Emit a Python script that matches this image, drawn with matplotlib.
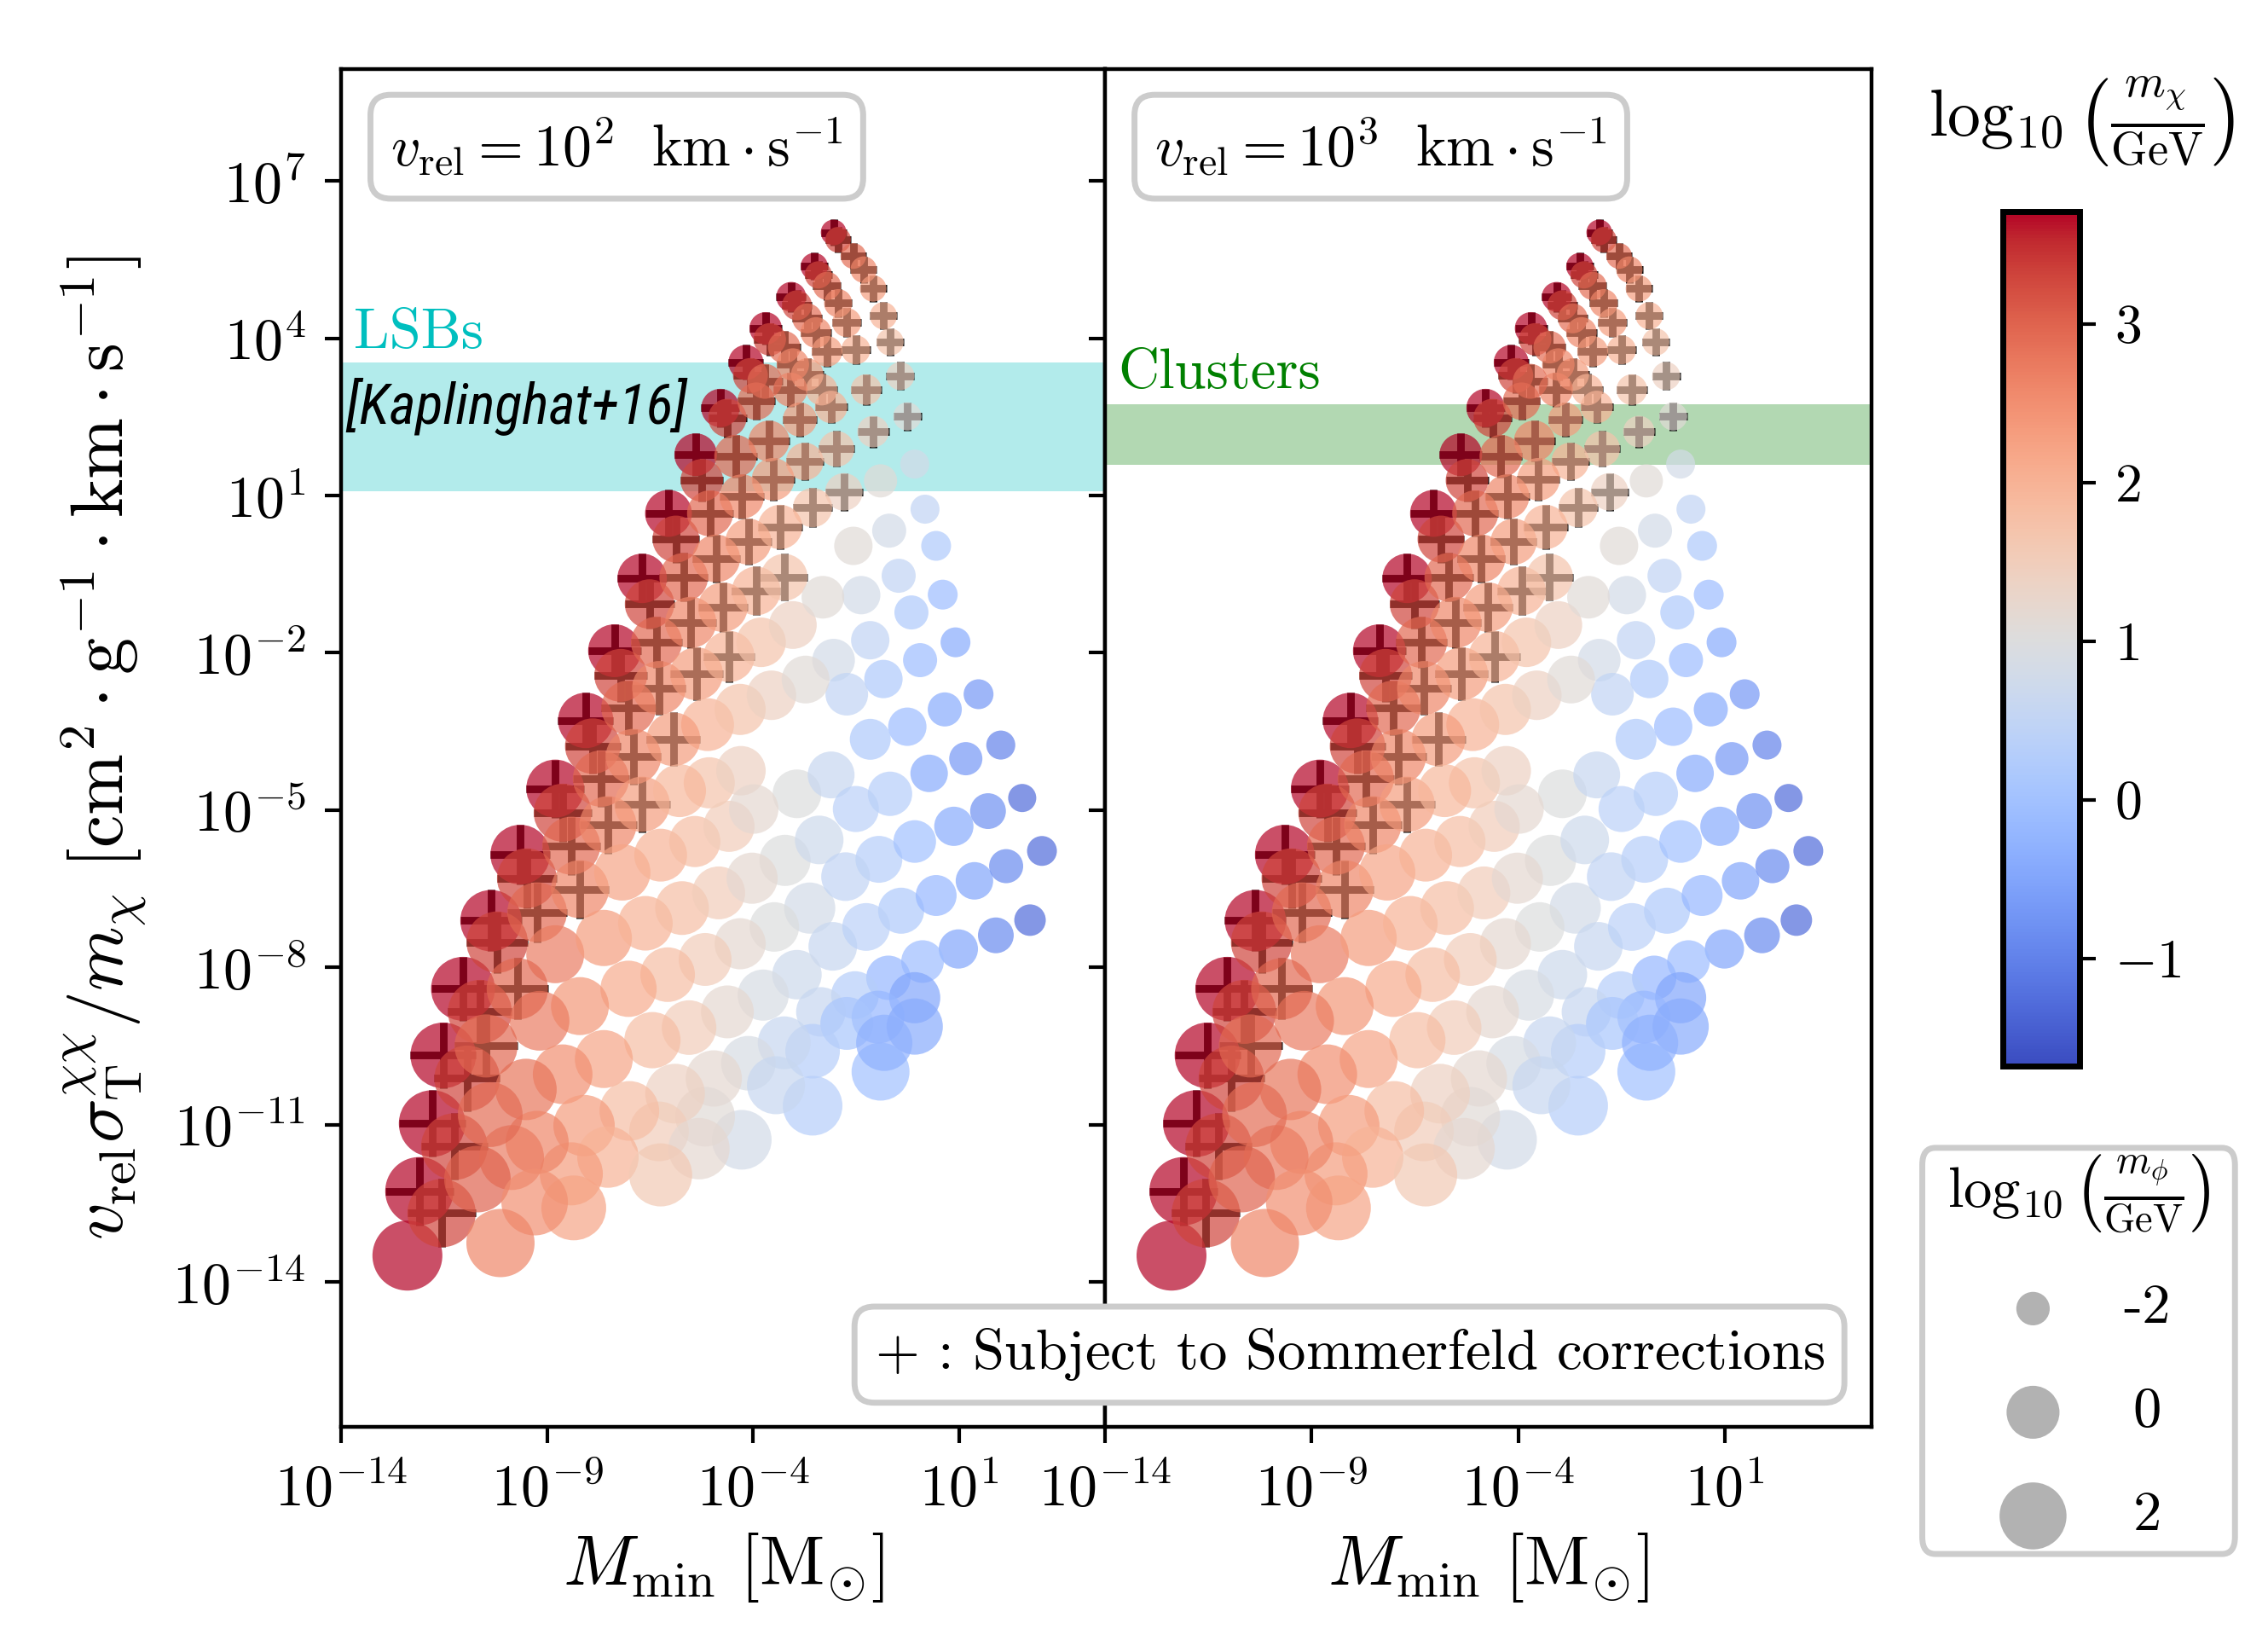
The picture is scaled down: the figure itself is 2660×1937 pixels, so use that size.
import numpy as np
import matplotlib.pyplot as plt
from matplotlib.colors import Normalize
from matplotlib.cm import ScalarMappable
from matplotlib.patches import FancyBboxPatch
from matplotlib.ticker import FuncFormatter

plt.rcParams['mathtext.fontset'] = 'cm'
plt.rcParams['font.family'] = 'serif'
plt.rcParams['font.serif'] = ['cmr10', 'DejaVu Serif']
plt.rcParams['axes.formatter.use_mathtext'] = True

# ---------------------------------------------------------
# data : log10 values
# ---------------------------------------------------------
log_mmin = [
    -2.04, -2.51, -3.07, -3.69, -4.17, -4.79, -5.39, -6.05, -6.69, -7.36, -8.06, -8.80, -9.65, -10.36, -11.04, -11.52, -11.79, -12.10, -12.39,
    -1.93, -2.41, -2.93, -3.59, -4.06, -4.62, -5.24, -5.87, -6.51, -7.21, -7.89, -8.62, -9.49, -10.21, -10.63, -10.94, -11.25, -11.56,
    -1.56, -1.31, -1.08, -0.83, -0.67, -0.42, -0.25, -0.07, 0.18, 0.45, 0.61, 0.92, 1.48, 2.02, 2.54,
    -2.20, -1.93, -1.72, -1.50, -1.25, -1.08, -0.90, -0.69, -0.46, -0.15, 0.06, 0.66, 1.17,
    -2.68, -2.47, -2.20, -2.68, -2.10, -3.24, -3.03, -2.33, -3.09, -2.86, -3.71, -3.92, -2.74, -1.97, -1.79, -2.55,
    -4.42, -3.61, -5.04, -4.27, -3.51, -5.68, -4.89, -4.11, -3.34, -6.34, -5.51, -4.73, -3.92, -3.24, -7.02, -6.28, -5.37, -4.58, -3.80, -3.03,
    -1.56, -1.37, -1.15, -0.83, -0.25, 0.28, -2.30, -2.04, -1.72, -1.15, -5.10, -4.31, -3.55, -2.72,
    -5.06, -4.29, -2.93, -2.10, -0.67, -7.69, -6.90, -5.93, -8.41, -7.52, -6.69, -5.78,
    -9.24, -8.20, -7.17, -6.24, -5.41, -4.58, -3.98, -3.22, -2.39, -1.50, -0.94, -0.07, 0.88, 1.71, 3.02,
    -8.80, -7.62, -6.61, -5.72, -4.83, -4.02, -2.62, -1.75, -0.40, 0.45, 1.38, 2.15, 2.73, 1.90, 0.99, 0.12,
    -3.48, -2.06, -1.25, -2.93, -4.31, -5.16, -6.07, -7.02, -8.20, -9.18, -9.72, -3.75, -4.62, -0.71, -1.52, -2.35,
    -0.07, -0.96, -1.72, -2.55, -3.24, -4.11, -4.95, -5.55, -6.44, -7.62, -8.62, -9.51, -10.48, -0.07, -0.90, -0.81,
    -2.55, -3.44, -4.27, -5.16, -5.89, -6.28, -7.00, -8.10, -7.52, -8.41, -8.35, -9.24, -9.86, -10.38, -10.69, -9.30, -10.13, -5.31, -6.24,
]
log_sigv = [
    6.02, 5.37, 4.79, 4.19, 3.54, 2.67, 1.78, 0.66, -0.58, -1.96, -3.29, -4.59, -5.85, -7.11, -8.41, -9.68, -10.98, -12.27, -13.50,
    5.88, 5.21, 4.63, 3.98, 3.29, 2.48, 1.29, 0.17, -1.07, -2.43, -3.78, -5.05, -6.30, -7.52, -8.85, -10.12, -11.42, -12.69,
    5.57, 5.31, 4.95, 4.43, 3.93, 3.28, 2.51, 1.60, 0.74, 0.04, -0.89, -1.80, -2.79, -3.76, -4.77,
    5.00, 4.67, 4.30, 3.78, 3.02, 2.22, 1.28, 0.33, -0.53, -1.23, -2.14, -3.08, -4.02,
    4.38, 4.11, 3.75, 3.31, 2.69, 3.83, 3.50, 3.02, 3.02, 2.45, 3.18, 2.80, 1.65, 1.89, 1.07, 0.77,
    1.75, 2.04, 0.66, 0.98, 1.31, -0.56, -0.20, 0.12, 0.40, -1.80, -1.42, -1.13, -0.82, -0.56, -3.05, -2.67, -2.40, -2.07, -1.80, -1.47,
    0.04, -0.90, -1.76, -2.50, -3.41, -4.30, -0.94, -2.14, -2.79, -3.65, -3.37, -3.08, -2.81, -2.51,
    -4.48, -4.25, -4.69, -4.33, -4.69, -4.40, -3.98, -3.65, -5.68, -5.28, -4.89, -4.63,
    -6.95, -6.51, -6.19, -5.86, -5.60, -5.31, -4.98, -5.96, -5.57, -4.98, -5.94, -5.60, -5.31, -5.02, -5.78,
    -7.75, -7.44, -7.16, -6.87, -6.58, -6.30, -6.87, -6.27, -6.92, -6.63, -6.35, -6.07, -7.10, -7.39, -7.65, -7.89,
    -7.23, -7.60, -7.23, -8.14, -7.55, -7.85, -8.14, -8.41, -8.74, -9.02, -8.41, -8.53, -8.85, -8.20, -8.53, -8.85,
    -8.58, -8.95, -9.07, -9.60, -9.44, -9.83, -10.12, -9.15, -9.39, -9.75, -10.04, -10.33, -9.50, -9.13, -9.99, -9.44,
    -10.64, -10.25, -11.29, -10.85, -10.41, -11.13, -10.74, -11.02, -11.62, -11.94, -12.59, -11.34, -11.63, -10.81, -12.04, -12.48, -13.26, -11.46, -11.96,
]
log_mchi = [
    3.7, 3.7, 3.7, 3.7, 3.7, 3.7, 3.7, 3.7, 3.7, 3.7, 3.7, 3.7, 3.7, 3.7, 3.7, 3.7, 3.7, 3.7, 3.7,
    3.3, 3.3, 3.3, 3.3, 3.3, 3.3, 3.3, 3.3, 3.3, 3.3, 3.3, 3.3, 3.3, 3.3, 3.3, 3.3, 3.3, 3.3,
    2.9, 2.6, 2.3, 2.0, 1.7, 1.4, 1.1, 0.8, 0.5, 0.2, -0.1, -0.4, -0.7, -1.0, -1.3,
    2.9, 2.6, 2.3, 2.0, 1.7, 1.4, 1.1, 0.8, 0.5, 0.2, -0.1, -0.4, -0.7,
    2.9, 2.6, 2.3, 2.3, 2.0, 2.9, 2.6, 2.0, 2.6, 2.3, 2.9, 2.9, 2.0, 1.7, 1.4, 1.7,
    2.95, 2.6, 2.95, 2.6, 2.3, 2.95, 2.6, 2.3, 2.0, 2.95, 2.6, 2.3, 2.0, 1.7, 2.95, 2.6, 2.3, 2.0, 1.7, 1.4,
    1.1, 0.8, 0.5, 0.2, -0.1, -0.4, 1.1, 0.8, 0.5, 0.2, 2.0, 1.7, 1.4, 1.1,
    1.7, 1.4, 1.0, 0.6, 0.3, 2.95, 2.6, 2.3, 2.95, 2.6, 2.3, 1.9,
    2.95, 2.6, 2.2, 2.0, 1.8, 1.5, 1.2, 1.0, 0.7, 0.4, 0.3, 0.0, -0.4, -0.8, -1.3,
    2.7, 2.3, 2.0, 1.8, 1.5, 1.2, 0.8, 0.5, 0.2, -0.2, -0.5, -0.9, -1.3, -0.9, -0.5, -0.1,
    1.0, 0.6, 0.4, 0.7, 1.2, 1.5, 1.8, 2.1, 2.4, 2.7, 2.95, 0.9, 1.2, -0.2, 0.3, 0.6,
    -0.5, -0.2, 0.1, 0.3, 0.6, 0.9, 1.2, 1.5, 1.8, 2.2, 2.5, 2.8, 2.95, -0.4, 0.0, -0.3,
    0.3, 0.6, 0.8, 1.1, 1.4, 1.5, 1.8, 2.3, 2.0, 2.3, 2.2, 2.6, 2.7, 2.9, 3.0, 2.5, 2.6, 1.2, 1.6,
]
log_mphi = [
    -2.55, -2.45, -2.27, -2.08, -1.88, -1.58, -1.17, -0.72, -0.42, -0.01, 0.32, 0.66, 0.90, 1.15, 1.53, 1.79, 1.93, 2.20, 2.48,
    -2.55, -2.45, -2.27, -2.08, -1.88, -1.58, -1.17, -0.72, -0.42, -0.01, 0.32, 0.66, 0.90, 1.15, 1.53, 1.79, 1.93, 2.20,
    -2.55, -2.50, -2.50, -2.45, -2.45, -2.39, -2.39, -2.33, -2.33, -2.27, -2.27, -2.27, -2.27, -2.33, -2.39,
    -2.39, -2.39, -2.33, -2.33, -2.21, -2.15, -2.02, -1.95, -1.95, -1.95, -1.95, -1.95, -2.02,
    -2.27, -2.21, -2.21, -2.08, -2.08, -2.08, -2.08, -2.15, -1.95, -1.95, -1.88, -1.66, -1.66, -1.81, -1.66, -1.50,
    -1.17, -1.34, -0.81, -0.99, -1.17, -0.52, -0.62, -0.81, -0.99, -0.22, -0.22, -0.42, -0.52, -0.72, 0.21, 0.10, -0.01, -0.22, -0.42, -0.62,
    -1.58, -1.58, -1.58, -1.58, -1.58, -1.66, -1.17, -1.17, -1.17, -1.34, -0.01, -0.22, -0.42, -0.62,
    -0.22, -0.42, -0.52, -0.72, -0.99, 0.43, 0.32, 0.10, 0.66, 0.55, 0.32, -0.01,
    0.90, 0.66, 0.43, -0.01, -0.22, -0.22, -0.42, -0.22, -0.52, -0.81, -0.72, -1.17, -1.50, -1.81, -2.27,
    0.66, 0.43, 0.21, 0.10, -0.01, -0.22, -0.22, -0.52, -0.81, -1.34, -1.66, -1.95, -2.15, -1.81, -1.50, -1.17,
    -0.42, -0.52, -0.62, -0.42, -0.22, -0.01, 0.21, 0.43, 0.66, 0.90, 1.15, -0.22, -0.01, -0.99, -0.62, -0.42,
    -0.22, -0.01, -0.01, 0.21, -0.01, 0.21, 0.43, 0.21, 0.43, 0.66, 0.90, 1.15, 1.40, 0.43, 0.66, 0.43,
    0.90, 0.66, 0.90, 0.90, 0.90, 0.90, 0.90, 1.15, 1.15, 1.40, 1.66, 1.40, 1.66, 1.66, 1.93, 1.93, 2.20, 1.15, 1.40,
]
sommerfeld = [
    1, 1, 1, 1, 1, 1, 1, 1, 1, 1, 1, 1, 1, 1, 1, 1, 1, 1, 0,
    1, 1, 1, 1, 1, 1, 1, 1, 1, 1, 1, 1, 1, 1, 1, 1, 1, 1,
    1, 1, 1, 1, 1, 1, 1, 0, 0, 0, 0, 0, 0, 0, 0,
    1, 1, 1, 1, 1, 1, 0, 0, 0, 0, 0, 0, 0,
    1, 1, 1, 1, 1, 1, 1, 1, 1, 1, 1, 1, 1, 1, 1, 1,
    1, 1, 1, 1, 1, 1, 1, 1, 1, 1, 1, 1, 1, 1, 1, 1, 1, 1, 0, 0,
    0, 0, 0, 0, 0, 0, 0, 0, 0, 0, 0, 0, 0, 0,
    0, 0, 0, 0, 0, 1, 1, 1, 1, 1, 1, 0,
    1, 1, 0, 0, 0, 0, 0, 0, 0, 0, 0, 0, 0, 0, 0,
    0, 0, 0, 0, 0, 0, 0, 0, 0, 0, 0, 0, 0, 0, 0, 0,
    0, 0, 0, 0, 0, 0, 0, 0, 0, 0, 1, 0, 0, 0, 0, 0,
    0, 0, 0, 0, 0, 0, 0, 0, 0, 0, 0, 0, 1, 0, 0, 0,
    0, 0, 0, 0, 0, 0, 0, 0, 0, 0, 0, 0, 0, 0, 0, 0, 0, 0, 0,
]

legend_mphi = [-2, 0, 2]

# observational bands
lsb_band = [12, 3500]
cluster_band = [38, 560]

vmin, vmax = -1.68, 3.71


def marker_size(lm):
    return 150 * (np.asarray(lm) + 3.33)


def pow10(v, pos):
    return r'$10^{%d}$' % int(round(np.log10(v)))


fig = plt.figure(figsize=(13.3, 9.685), dpi=200)

ax1 = fig.add_axes([0.1504, 0.1365, 0.3368, 0.8215])
ax2 = fig.add_axes([0.4872, 0.1365, 0.3380, 0.8215], sharey=ax1)

norm = Normalize(vmin=vmin, vmax=vmax)
x = 10 ** np.array(log_mmin)
y = 10 ** np.array(log_sigv)
s = marker_size(log_mphi)
som = np.array(sommerfeld, bool)

for ax in (ax1, ax2):
    ax.set_xscale('log')
    ax.set_yscale('log')
    # crosses sit under the translucent discs
    ax.scatter(x[som], y[som], s=s[som], marker='+', c='k', linewidths=3.2, zorder=2)
    ax.scatter(x, y, s=s, c=log_mchi, cmap='coolwarm', norm=norm, alpha=0.7,
               edgecolors='none', zorder=3)
    ax.set_xlim(1e-14, 10 ** 4.55)
    ax.set_ylim(10 ** -16.76, 10 ** 9.13)
    ax.set_xticks([1e-14, 1e-9, 1e-4, 1e1])
    ax.set_yticks([1e-14, 1e-11, 1e-8, 1e-5, 1e-2, 1e1, 1e4, 1e7])
    ax.minorticks_off()
    ax.xaxis.set_major_formatter(FuncFormatter(pow10))
    ax.yaxis.set_major_formatter(FuncFormatter(pow10))
    ax.tick_params(direction='out', length=7, width=1.5, labelsize=24.5, pad=8)
    for sp in ax.spines.values():
        sp.set_linewidth(1.6)
    ax.set_xlabel(r'$M_{\rm min}\ [{\rm M}_{\odot}]$', fontsize=30, labelpad=6)

ax2.tick_params(labelleft=False)

ax1.axhspan(lsb_band[0], lsb_band[1], color='c', alpha=0.3, lw=0, zorder=1)
ax2.axhspan(cluster_band[0], cluster_band[1], color='g', alpha=0.3, lw=0, zorder=1)

ax1.text(0.017, 0.805, 'LSBs', color='c', fontsize=24, transform=ax1.transAxes,
         va='center', ha='left')
ax1.text(0.006, 0.752, '[Kaplinghat+16]', fontsize=24, transform=ax1.transAxes,
         va='center', ha='left', style='italic', stretch='condensed',
         family=['Roboto Condensed', 'DejaVu Sans'])
ax2.text(0.017, 0.776, 'Clusters', color='g', fontsize=24, transform=ax2.transAxes,
         va='center', ha='left')

box = dict(boxstyle='round,pad=0.35', fc='white', ec='0.8', lw=2.5)
ax1.text(0.065, 0.943, r'$v_{\rm rel} = 10^2\ \ {\rm km}\cdot{\rm s}^{-1}$', fontsize=24.5,
         transform=ax1.transAxes, va='center', ha='left', bbox=box, zorder=5)
ax2.text(0.065, 0.943, r'$v_{\rm rel} = 10^3\ \ {\rm km}\cdot{\rm s}^{-1}$', fontsize=24.5,
         transform=ax2.transAxes, va='center', ha='left', bbox=box, zorder=5)

ax1.set_ylabel(r'$v_{\rm rel}\sigma_{\rm T}^{\chi\chi}/m_\chi\ [{\rm cm}^2\cdot{\rm g}^{-1}\cdot{\rm km}\cdot{\rm s}^{-1}]$',
               fontsize=31, labelpad=10)

fig.text(0.595, 0.18, r'$+$ : Subject to Sommerfeld corrections', fontsize=24,
         ha='center', va='center', bbox=box, zorder=10)

# colorbar
cax = fig.add_axes([0.883, 0.3547, 0.0338, 0.5173])
cb = fig.colorbar(ScalarMappable(norm=norm, cmap='coolwarm'), cax=cax)
cb.set_ticks([-1, 0, 1, 2, 3])
cb.set_ticklabels([r'$-1$', r'$0$', r'$1$', r'$2$', r'$3$'])
cb.ax.tick_params(length=7, width=1.5, labelsize=23, pad=8)
cb.outline.set_linewidth(2.5)
fig.text(0.918, 0.926, r'$\log_{10}\left(\frac{m_\chi}{\rm GeV}\right)$', fontsize=28,
         ha='center', va='center')

# size legend
lax = fig.add_axes([0.8447, 0.0542, 0.1436, 0.2561])
lax.set_xlim(0, 1)
lax.set_ylim(0, 1)
lax.axis('off')
lax.add_patch(FancyBboxPatch((0.02, 0.02), 0.96, 0.96, boxstyle='round,pad=0,rounding_size=0.04',
                             fc='white', ec='0.8', lw=2.5, transform=lax.transAxes))
lax.text(0.5, 0.87, r'$\log_{10}\left(\frac{m_\phi}{\rm GeV}\right)$', fontsize=24,
         ha='center', va='center')
leg_y = [0.6, 0.355, 0.11]
for lm, ly in zip(legend_mphi, leg_y):
    lax.scatter([0.36], [ly], s=marker_size(lm), color='k', alpha=0.3, edgecolors='none')
    lax.text(0.71, ly, str(lm), fontsize=24, ha='center', va='center')

fig.savefig('out.png', dpi=200)
